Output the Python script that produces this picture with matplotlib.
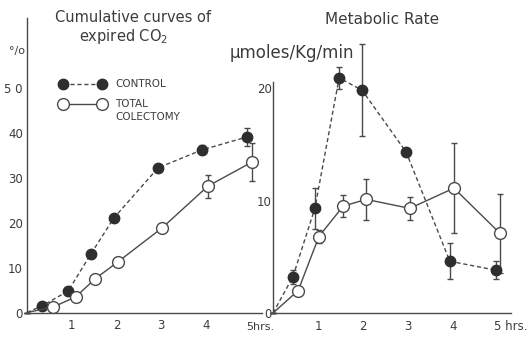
import matplotlib
matplotlib.use("Agg")
import matplotlib.pyplot as plt

# Cumulative expired CO2 (% of dose) vs. time (hrs)
cum_ctrl_t = [0, 0.34, 0.92, 1.43, 1.94, 2.93, 3.91, 4.92]
cum_ctrl_v = [0, 1.5, 4.8, 13.1, 21.1, 32.3, 36.3, 39.2]
cum_ctrl_e = [0, 0, 0, 0, 0, 0, 1.0, 2.0]
cum_col_t = [0, 0.58, 1.09, 1.52, 2.03, 3.02, 4.04, 5.03]
cum_col_v = [0, 1.2, 3.5, 7.5, 11.3, 18.9, 28.2, 33.6]
cum_col_e = [0, 0, 0, 0, 0, 0, 2.6, 4.2]

# Metabolic rate (umoles/Kg/min) vs. time (hrs)
met_ctrl_t = [0, 0.44, 0.93, 1.47, 1.98, 2.96, 3.93, 4.96]
met_ctrl_v = [0, 3.2, 9.3, 20.9, 19.8, 14.3, 4.6, 3.8]
met_ctrl_e = [0, 0.6, 1.8, 1.0, 4.1, 0.3, 1.6, 0.8]
met_col_t = [0, 0.56, 1.02, 1.56, 2.07, 3.04, 4.02, 5.04]
met_col_v = [0, 2.0, 6.8, 9.5, 10.1, 9.3, 11.1, 7.1]
met_col_e = [0, 0.3, 0.6, 1.0, 1.8, 1.0, 4.0, 3.5]

cum_yticks = [0, 10, 20, 30, 40, 50]
cum_yticklabels = ["0", "10", "20", "30", "40", "5 0"]
met_yticks = [0, 10, 20]
xticks = [1, 2, 3, 4]

INK = "#3c3c3c"
LINE = "#4a4a4a"
FILL = "#2e2e2e"
plt.rcParams["font.family"] = ["DejaVu Sans"]

W, H = 529, 337
fig = plt.figure(figsize=(W / 100, H / 100), dpi=100)


def frac(x0, y0, x1, y1):
    return [x0 / W, 1 - y1 / H, (x1 - x0) / W, (y1 - y0) / H]


ax1 = fig.add_axes(frac(27, 18, 262, 312.5))
ax2 = fig.add_axes(frac(273, 82, 511, 313))
ax1.set_xlim(0, 5.25)
ax1.set_ylim(0, 294.5 / 4.48)
ax2.set_xlim(0, 238 / 45)
ax2.set_ylim(0, 231 / 11.25)


def series(ax, t, v, e, filled):
    if filled:
        style = dict(color=LINE, lw=1.0, ls=(0, (3, 2)), marker="o", ms=7.5,
                     mfc=FILL, mec=FILL, markevery=list(range(1, len(t))))
    else:
        style = dict(color=LINE, lw=1.0, ls="-", marker="o", ms=8.5,
                     mfc="white", mec=LINE, mew=1.0,
                     markevery=list(range(1, len(t))))
    ax.errorbar(t, v, yerr=e, fmt="none", ecolor=LINE, elinewidth=1.0,
                capsize=2, capthick=1.0, clip_on=False, zorder=2)
    ax.plot(t, v, clip_on=False, zorder=3 if filled else 4, **style)


series(ax1, cum_ctrl_t, cum_ctrl_v, cum_ctrl_e, True)
series(ax1, cum_col_t, cum_col_v, cum_col_e, False)
series(ax2, met_ctrl_t, met_ctrl_v, met_ctrl_e, True)
series(ax2, met_col_t, met_col_v, met_col_e, False)

for ax in (ax1, ax2):
    for s in ("top", "right"):
        ax.spines[s].set_visible(False)
    for s in ("left", "bottom"):
        ax.spines[s].set_color(LINE)
        ax.spines[s].set_linewidth(1.0)
    ax.set_xticks(xticks)
    ax.set_xticklabels([str(x) for x in xticks])
    ax.tick_params(length=0, labelsize=8.5, labelcolor=INK)
    ax.tick_params(axis="x", pad=5)
    ax.set_facecolor("none")

ax1.set_yticks(cum_yticks)
ax1.set_yticklabels(cum_yticklabels)
ax1.tick_params(axis="y", pad=3)
ax2.set_yticks(met_yticks)
ax2.set_yticklabels([str(v) for v in met_yticks])
ax2.tick_params(axis="y", pad=1)

# hour labels at the 5-hour mark
ax1.annotate("5hrs.", xy=(4.9, 0), xycoords=("data", "axes fraction"),
             xytext=(0, -10.5), textcoords="offset points", ha="left",
             va="center", fontsize=8, color=INK)
ax2.annotate("5 hrs.", xy=(4.9, 0), xycoords=("data", "axes fraction"),
             xytext=(0, -9.5), textcoords="offset points", ha="left",
             va="center", fontsize=8.5, color=INK)

# titles and unit labels
fig.text(133 / W, 1 - 17 / H, "Cumulative curves of", ha="center",
         va="center", fontsize=10.5, color=INK)
fig.text(124 / W, 1 - 36 / H, "expired CO$_2$", ha="center", va="center",
         fontsize=10.5, color=INK)
fig.text(382 / W, 1 - 20 / H, "Metabolic Rate", ha="center", va="center",
         fontsize=11, color=INK)
fig.text(292 / W, 1 - 53 / H, "μmoles/Kg/min", ha="center", va="center",
         fontsize=12, color=INK)
fig.text(17 / W, 1 - 51 / H, "°/o", ha="center", va="center", fontsize=8,
         color=INK)

# legend drawn by hand
lx0, lx1 = 63, 102
fig.add_artist(plt.Line2D([lx0 / W, lx1 / W], [1 - 84 / H] * 2, color=LINE,
                          lw=1.0, ls=(0, (3, 2)), marker="o", ms=7.5,
                          mfc=FILL, mec=FILL))
fig.add_artist(plt.Line2D([lx0 / W, lx1 / W], [1 - 104 / H] * 2, color=LINE,
                          lw=1.0, marker="o", ms=8.5, mfc="white", mec=LINE))
fig.text(115 / W, 1 - 84 / H, "CONTROL", ha="left", va="center",
         fontsize=7.5, color=INK)
fig.text(115 / W, 1 - 104 / H, "TOTAL", ha="left", va="center",
         fontsize=7.5, color=INK)
fig.text(115 / W, 1 - 117 / H, "COLECTOMY", ha="left", va="center",
         fontsize=7.5, color=INK)

fig.savefig("out.png", dpi=100)
